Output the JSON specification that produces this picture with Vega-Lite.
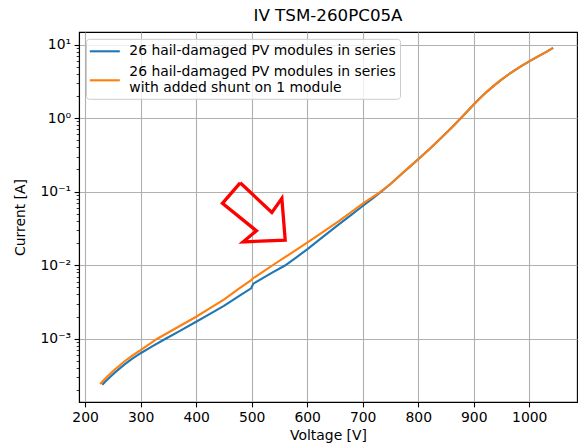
{
  "$schema": "https://vega.github.io/schema/vega-lite/v6.json",
  "width": 498,
  "height": 370,
  "autosize": {"type": "none"},
  "padding": {"left": 79, "top": 32, "right": 1, "bottom": 43},
  "background": "white",
  "config": {
    "font": "DejaVu Sans",
    "view": {"stroke": "black", "strokeWidth": 1.1},
    "axis": {
      "labelFont": "DejaVu Sans", "titleFont": "DejaVu Sans",
      "labelFontSize": 13.9, "titleFontSize": 13.9, "titleFontWeight": "normal",
      "labelColor": "black", "titleColor": "black",
      "tickColor": "black", "domainColor": "black",
      "gridColor": "#b0b0b0", "gridWidth": 1.1,
      "tickWidth": 1.1, "domainWidth": 1.1, "tickSize": 4.9, "labelPadding": 3.5
    }
  },
  "title": {
    "text": "IV TSM-260PC05A", "fontSize": 16.7, "fontWeight": "normal",
    "font": "DejaVu Sans", "color": "black", "offset": 7, "frame": "group", "anchor": "middle"
  },
  "datasets": {
    "curves": [
      {"series": "26 hail-damaged PV modules in series", "V": 231, "I": 0.000237},
      {"series": "26 hail-damaged PV modules in series", "V": 237, "I": 0.000264},
      {"series": "26 hail-damaged PV modules in series", "V": 245, "I": 0.000302},
      {"series": "26 hail-damaged PV modules in series", "V": 255, "I": 0.000354},
      {"series": "26 hail-damaged PV modules in series", "V": 270, "I": 0.000441},
      {"series": "26 hail-damaged PV modules in series", "V": 285, "I": 0.000535},
      {"series": "26 hail-damaged PV modules in series", "V": 300, "I": 0.000635},
      {"series": "26 hail-damaged PV modules in series", "V": 320, "I": 0.00078},
      {"series": "26 hail-damaged PV modules in series", "V": 345, "I": 0.001},
      {"series": "26 hail-damaged PV modules in series", "V": 370, "I": 0.00127},
      {"series": "26 hail-damaged PV modules in series", "V": 400, "I": 0.0017},
      {"series": "26 hail-damaged PV modules in series", "V": 425, "I": 0.00218},
      {"series": "26 hail-damaged PV modules in series", "V": 450, "I": 0.0028},
      {"series": "26 hail-damaged PV modules in series", "V": 477, "I": 0.0038},
      {"series": "26 hail-damaged PV modules in series", "V": 499, "I": 0.00485},
      {"series": "26 hail-damaged PV modules in series", "V": 503, "I": 0.0056},
      {"series": "26 hail-damaged PV modules in series", "V": 520, "I": 0.00665},
      {"series": "26 hail-damaged PV modules in series", "V": 537, "I": 0.0079},
      {"series": "26 hail-damaged PV modules in series", "V": 560, "I": 0.0099},
      {"series": "26 hail-damaged PV modules in series", "V": 580, "I": 0.0127},
      {"series": "26 hail-damaged PV modules in series", "V": 600, "I": 0.0164},
      {"series": "26 hail-damaged PV modules in series", "V": 630, "I": 0.0248},
      {"series": "26 hail-damaged PV modules in series", "V": 657, "I": 0.0359},
      {"series": "26 hail-damaged PV modules in series", "V": 680, "I": 0.0488},
      {"series": "26 hail-damaged PV modules in series", "V": 700, "I": 0.0637},
      {"series": "26 hail-damaged PV modules in series", "V": 718, "I": 0.081},
      {"series": "26 hail-damaged PV modules in series", "V": 735, "I": 0.102},
      {"series": "26 hail-damaged PV modules in series", "V": 750, "I": 0.127},
      {"series": "26 hail-damaged PV modules in series", "V": 770, "I": 0.174},
      {"series": "26 hail-damaged PV modules in series", "V": 785, "I": 0.219},
      {"series": "26 hail-damaged PV modules in series", "V": 800, "I": 0.275},
      {"series": "26 hail-damaged PV modules in series", "V": 820, "I": 0.378},
      {"series": "26 hail-damaged PV modules in series", "V": 835, "I": 0.484},
      {"series": "26 hail-damaged PV modules in series", "V": 850, "I": 0.624},
      {"series": "26 hail-damaged PV modules in series", "V": 865, "I": 0.807},
      {"series": "26 hail-damaged PV modules in series", "V": 877, "I": 1.0},
      {"series": "26 hail-damaged PV modules in series", "V": 889, "I": 1.247},
      {"series": "26 hail-damaged PV modules in series", "V": 900, "I": 1.531},
      {"series": "26 hail-damaged PV modules in series", "V": 912, "I": 1.888},
      {"series": "26 hail-damaged PV modules in series", "V": 925, "I": 2.328},
      {"series": "26 hail-damaged PV modules in series", "V": 937, "I": 2.786},
      {"series": "26 hail-damaged PV modules in series", "V": 950, "I": 3.334},
      {"series": "26 hail-damaged PV modules in series", "V": 962, "I": 3.882},
      {"series": "26 hail-damaged PV modules in series", "V": 975, "I": 4.519},
      {"series": "26 hail-damaged PV modules in series", "V": 987, "I": 5.164},
      {"series": "26 hail-damaged PV modules in series", "V": 1000, "I": 5.902},
      {"series": "26 hail-damaged PV modules in series", "V": 1015, "I": 6.848},
      {"series": "26 hail-damaged PV modules in series", "V": 1030, "I": 7.889},
      {"series": "26 hail-damaged PV modules in series", "V": 1043, "I": 9.0},
      {"series": "26 hail-damaged PV modules in series with added shunt on 1 module", "V": 227, "I": 0.000243},
      {"series": "26 hail-damaged PV modules in series with added shunt on 1 module", "V": 233, "I": 0.000271},
      {"series": "26 hail-damaged PV modules in series with added shunt on 1 module", "V": 240, "I": 0.000306},
      {"series": "26 hail-damaged PV modules in series with added shunt on 1 module", "V": 252, "I": 0.000373},
      {"series": "26 hail-damaged PV modules in series with added shunt on 1 module", "V": 270, "I": 0.000486},
      {"series": "26 hail-damaged PV modules in series with added shunt on 1 module", "V": 285, "I": 0.000591},
      {"series": "26 hail-damaged PV modules in series with added shunt on 1 module", "V": 300, "I": 0.000701},
      {"series": "26 hail-damaged PV modules in series with added shunt on 1 module", "V": 330, "I": 0.001},
      {"series": "26 hail-damaged PV modules in series with added shunt on 1 module", "V": 365, "I": 0.00141},
      {"series": "26 hail-damaged PV modules in series with added shunt on 1 module", "V": 400, "I": 0.00199},
      {"series": "26 hail-damaged PV modules in series with added shunt on 1 module", "V": 425, "I": 0.0026},
      {"series": "26 hail-damaged PV modules in series with added shunt on 1 module", "V": 450, "I": 0.0034},
      {"series": "26 hail-damaged PV modules in series with added shunt on 1 module", "V": 477, "I": 0.0048},
      {"series": "26 hail-damaged PV modules in series with added shunt on 1 module", "V": 498, "I": 0.00615},
      {"series": "26 hail-damaged PV modules in series with added shunt on 1 module", "V": 502, "I": 0.0066},
      {"series": "26 hail-damaged PV modules in series with added shunt on 1 module", "V": 520, "I": 0.0081},
      {"series": "26 hail-damaged PV modules in series with added shunt on 1 module", "V": 537, "I": 0.0099},
      {"series": "26 hail-damaged PV modules in series with added shunt on 1 module", "V": 570, "I": 0.0144},
      {"series": "26 hail-damaged PV modules in series with added shunt on 1 module", "V": 600, "I": 0.0202},
      {"series": "26 hail-damaged PV modules in series with added shunt on 1 module", "V": 630, "I": 0.0289},
      {"series": "26 hail-damaged PV modules in series with added shunt on 1 module", "V": 657, "I": 0.0398},
      {"series": "26 hail-damaged PV modules in series with added shunt on 1 module", "V": 680, "I": 0.0533},
      {"series": "26 hail-damaged PV modules in series with added shunt on 1 module", "V": 700, "I": 0.0687},
      {"series": "26 hail-damaged PV modules in series with added shunt on 1 module", "V": 730, "I": 0.097},
      {"series": "26 hail-damaged PV modules in series with added shunt on 1 module", "V": 750, "I": 0.127},
      {"series": "26 hail-damaged PV modules in series with added shunt on 1 module", "V": 770, "I": 0.174},
      {"series": "26 hail-damaged PV modules in series with added shunt on 1 module", "V": 785, "I": 0.219},
      {"series": "26 hail-damaged PV modules in series with added shunt on 1 module", "V": 800, "I": 0.275},
      {"series": "26 hail-damaged PV modules in series with added shunt on 1 module", "V": 820, "I": 0.378},
      {"series": "26 hail-damaged PV modules in series with added shunt on 1 module", "V": 835, "I": 0.484},
      {"series": "26 hail-damaged PV modules in series with added shunt on 1 module", "V": 850, "I": 0.624},
      {"series": "26 hail-damaged PV modules in series with added shunt on 1 module", "V": 865, "I": 0.807},
      {"series": "26 hail-damaged PV modules in series with added shunt on 1 module", "V": 877, "I": 1.0},
      {"series": "26 hail-damaged PV modules in series with added shunt on 1 module", "V": 889, "I": 1.247},
      {"series": "26 hail-damaged PV modules in series with added shunt on 1 module", "V": 900, "I": 1.531},
      {"series": "26 hail-damaged PV modules in series with added shunt on 1 module", "V": 912, "I": 1.888},
      {"series": "26 hail-damaged PV modules in series with added shunt on 1 module", "V": 925, "I": 2.328},
      {"series": "26 hail-damaged PV modules in series with added shunt on 1 module", "V": 937, "I": 2.786},
      {"series": "26 hail-damaged PV modules in series with added shunt on 1 module", "V": 950, "I": 3.334},
      {"series": "26 hail-damaged PV modules in series with added shunt on 1 module", "V": 962, "I": 3.882},
      {"series": "26 hail-damaged PV modules in series with added shunt on 1 module", "V": 975, "I": 4.519},
      {"series": "26 hail-damaged PV modules in series with added shunt on 1 module", "V": 987, "I": 5.164},
      {"series": "26 hail-damaged PV modules in series with added shunt on 1 module", "V": 1000, "I": 5.902},
      {"series": "26 hail-damaged PV modules in series with added shunt on 1 module", "V": 1015, "I": 6.848},
      {"series": "26 hail-damaged PV modules in series with added shunt on 1 module", "V": 1030, "I": 7.889},
      {"series": "26 hail-damaged PV modules in series with added shunt on 1 module", "V": 1043, "I": 9.0}
    ],
    "arrow": [
      {"k": 0, "V": 479.3, "I": 0.1318},
      {"k": 1, "V": 447.4, "I": 0.0692},
      {"k": 2, "V": 508.6, "I": 0.0293},
      {"k": 3, "V": 484.7, "I": 0.0208},
      {"k": 4, "V": 560.4, "I": 0.0219},
      {"k": 5, "V": 554.4, "I": 0.0809},
      {"k": 6, "V": 536.4, "I": 0.0521},
      {"k": 7, "V": 479.3, "I": 0.1318}
    ]
  },
  "encoding": {
    "x": {
      "field": "V", "type": "quantitative",
      "scale": {"domain": [189, 1086], "nice": false, "zero": false},
      "axis": {
        "title": "Voltage [V]", "values": [200, 300, 400, 500, 600, 700, 800, 900, 1000],
        "format": "d",
        "grid": true, "labelFlush": false, "labelOverlap": false, "titlePadding": 4
      }
    }
  },
  "layer": [
    {
      "data": {"name": "curves"},
      "mark": {"type": "line", "strokeWidth": 2.1},
      "encoding": {
        "y": {
          "field": "I", "type": "quantitative",
          "scale": {"type": "log", "domain": [0.000138, 14.8], "nice": false},
          "axis": {
            "orient": "left", "title": "Current [A]",
            "values": [0.001, 0.01, 0.1, 1, 10], "grid": true, "titlePadding": 13,
            "labelExpr": "datum.value < 0.005 ? '10⁻³' : datum.value < 0.05 ? '10⁻²' : datum.value < 0.5 ? '10⁻¹' : datum.value < 5 ? '10⁰' : '10¹'"
          }
        },
        "color": {
          "field": "series", "type": "nominal",
          "scale": {
            "domain": ["26 hail-damaged PV modules in series", "26 hail-damaged PV modules in series with added shunt on 1 module"],
            "range": ["#1f77b4", "#ff7f0e"]
          },
          "legend": {
            "orient": "none", "legendX": 7, "legendY": 6.8, "title": null,
            "symbolType": "M-2,0H2", "symbolSize": 225, "symbolStrokeWidth": 2.1, "symbolOffset": 6.3,
            "labelFont": "DejaVu Sans", "labelFontSize": 13.9, "labelColor": "black", "labelLimit": 400,
            "fillColor": "rgba(255,255,255,0.8)", "strokeColor": "#cccccc", "cornerRadius": 3,
            "padding": 3.5, "rowPadding": 7, "labelOffset": 15.5,
            "labelExpr": "datum.label == '26 hail-damaged PV modules in series' ? datum.label : ['26 hail-damaged PV modules in series', 'with added shunt on 1 module']",
            "encode": {
              "labels": {
                "update": {
                  "dy": {"signal": "datum.label == '26 hail-damaged PV modules in series' ? 0 : -8"}
                }
              }
            }
          }
        }
      }
    },
    {
      "data": {"name": "arrow"},
      "mark": {"type": "line", "color": "red", "strokeWidth": 3.3, "strokeJoin": "miter"},
      "encoding": {
        "y": {
          "field": "I", "type": "quantitative",
          "axis": {
            "orient": "left", "title": null, "labels": false, "grid": false, "domain": false,
            "tickSize": 2.8, "tickWidth": 0.8,
            "values": [0.0002, 0.0003, 0.0004, 0.0005, 0.0006, 0.0007, 0.0008, 0.0009,
                       0.002, 0.003, 0.004, 0.005, 0.006, 0.007, 0.008, 0.009,
                       0.02, 0.03, 0.04, 0.05, 0.06, 0.07, 0.08, 0.09,
                       0.2, 0.3, 0.4, 0.5, 0.6, 0.7, 0.8, 0.9,
                       2, 3, 4, 5, 6, 7, 8, 9]
          }
        },
        "order": {"field": "k", "type": "quantitative"}
      }
    }
  ],
  "resolve": {"axis": {"y": "independent"}}
}
